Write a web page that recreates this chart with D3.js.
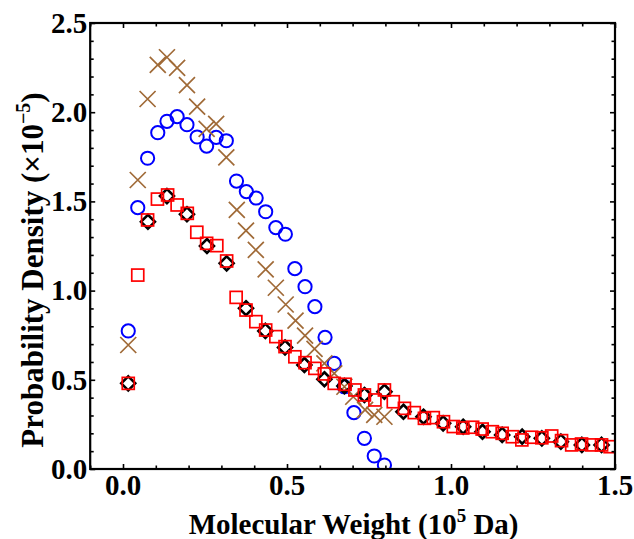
<!DOCTYPE html>
<html><head><meta charset="utf-8">
<script src="https://cdn.jsdelivr.net/npm/d3@7/dist/d3.min.js"></script>
<style>body{margin:0;background:#fff}svg{display:block}</style></head>
<body><svg id="c" width="634" height="539"></svg>
<script>
// Data (x in 10^5 Da, y in 10^-5)
const circleX = [0.016,0.045,0.075,0.106,0.134,0.165,0.195,0.226,0.255,0.284,0.315,0.346,0.376,0.406,0.435,0.466,0.495,0.524,0.555,0.585,0.616,0.644,0.675,0.704,0.736,0.766,0.797];
const circleY = [0.774,1.465,1.742,1.885,1.949,1.975,1.930,1.861,1.810,1.859,1.840,1.614,1.555,1.519,1.442,1.353,1.316,1.123,1.022,0.910,0.738,0.592,0.461,0.316,0.172,0.073,0.022];

const crossX = [0.016,0.045,0.075,0.106,0.134,0.165,0.195,0.226,0.255,0.284,0.315,0.347,0.375,0.405,0.435,0.466,0.496,0.526,0.555,0.584,0.614,0.644,0.675,0.702,0.738,0.766,0.797];
const crossY = [0.695,1.620,2.074,2.265,2.308,2.249,2.152,2.031,1.906,1.934,1.747,1.452,1.336,1.228,1.119,1.016,0.922,0.832,0.748,0.673,0.592,0.536,0.461,0.405,0.331,0.303,0.293];

const diamondX = [0.016,0.076,0.134,0.195,0.256,0.316,0.375,0.434,0.494,0.553,0.614,0.675,0.736,0.797,0.855,0.916,0.976,1.037,1.096,1.156,1.217,1.277,1.335,1.399,1.459];
const diamondY = [0.480,1.386,1.530,1.428,1.250,1.153,0.901,0.774,0.681,0.583,0.503,0.465,0.415,0.433,0.321,0.293,0.256,0.237,0.209,0.191,0.181,0.172,0.153,0.135,0.135];

const squareX = [0.016,0.045,0.075,0.105,0.136,0.165,0.196,0.225,0.255,0.286,0.316,0.345,0.375,0.405,0.435,0.466,0.494,0.524,0.555,0.585,0.614,0.644,0.677,0.707,0.736,0.768,0.797,0.824,0.858,0.888,0.919,0.946,0.977,1.007,1.036,1.066,1.095,1.126,1.156,1.187,1.216,1.246,1.277,1.307,1.337,1.368,1.398,1.429,1.459,1.485];
const squareY = [0.480,1.087,1.396,1.513,1.536,1.480,1.433,1.327,1.265,1.252,1.166,0.962,0.891,0.826,0.779,0.742,0.686,0.629,0.596,0.564,0.533,0.480,0.475,0.443,0.415,0.387,0.443,0.377,0.340,0.316,0.284,0.288,0.265,0.238,0.230,0.234,0.224,0.209,0.200,0.181,0.163,0.178,0.175,0.185,0.159,0.135,0.140,0.135,0.135,0.125];

const xTickLabels = [0.0, 0.5, 1.0, 1.5];
const yTickLabels = [0.0, 0.5, 1.0, 1.5, 2.0, 2.5];

const W = 634, H = 539;
const L = 90.2, R = 615, T = 23, B = 469;
const svg = d3.select("#c");
const x = d3.scaleLinear().domain([-0.1, 1.5]).range([L, R]);
const y = d3.scaleLinear().domain([0, 2.5]).range([B, T]);
const font = "'Liberation Serif','Times New Roman',serif";

svg.append("defs").append("clipPath").attr("id","pc")
  .append("rect").attr("x",L).attr("y",T).attr("width",R-L).attr("height",B-T);

const g = svg.append("g").attr("clip-path","url(#pc)");

// blue circles
g.append("g").selectAll("circle").data(d3.range(circleX.length)).join("circle")
  .attr("cx", i => x(circleX[i])).attr("cy", i => y(circleY[i])).attr("r", 6.6)
  .attr("fill","none").attr("stroke","#0000ff").attr("stroke-width",2);

// brown crosses
const cs = 8;
g.append("g").selectAll("path").data(d3.range(crossX.length)).join("path")
  .attr("d", i => { const cx = x(crossX[i]), cy = y(crossY[i]);
    return `M${cx-cs},${cy-cs}L${cx+cs},${cy+cs}M${cx-cs},${cy+cs}L${cx+cs},${cy-cs}`; })
  .attr("fill","none").attr("stroke","#a06a37").attr("stroke-width",1.7);

// black diamonds
const ds = 7;
g.append("g").selectAll("path").data(d3.range(diamondX.length)).join("path")
  .attr("d", i => { const cx = x(diamondX[i]), cy = y(diamondY[i]);
    return `M${cx},${cy-ds}L${cx+ds},${cy}L${cx},${cy+ds}L${cx-ds},${cy}Z`; })
  .attr("fill","none").attr("stroke","#000").attr("stroke-width",2.6);

// red squares
const ss = 6;
g.append("g").selectAll("rect").data(d3.range(squareX.length)).join("rect")
  .attr("x", i => x(squareX[i]) - ss).attr("y", i => y(squareY[i]) - ss)
  .attr("width", 2*ss).attr("height", 2*ss)
  .attr("fill","none").attr("stroke","#ff0000").attr("stroke-width",1.7);

// axes ticks (inward)
const fmt = d3.format(".1f");
const xMinor = d3.range(-0.1, 1.5001, 0.1).map(v => +v.toFixed(2)).filter(v => !xTickLabels.some(t => Math.abs(t - v) < 1e-6));
const yMinor = d3.range(0, 2.5001, 0.1).map(v => +v.toFixed(2)).filter(v => !yTickLabels.some(t => Math.abs(t - v) < 1e-6));

function styleAxis(sel){ sel.select(".domain").remove(); sel.selectAll("line").attr("stroke","#000").attr("stroke-width",1.6); sel.selectAll("text").remove(); }

svg.append("g").attr("transform",`translate(0,${B})`).call(d3.axisBottom(x).tickValues(xTickLabels).tickSize(-5)).call(styleAxis);
svg.append("g").attr("transform",`translate(0,${B})`).call(d3.axisBottom(x).tickValues(xMinor).tickSize(-3.5)).call(styleAxis);
svg.append("g").attr("transform",`translate(0,${T})`).call(d3.axisTop(x).tickValues(xTickLabels).tickSize(-5)).call(styleAxis);
svg.append("g").attr("transform",`translate(0,${T})`).call(d3.axisTop(x).tickValues(xMinor).tickSize(-3.5)).call(styleAxis);
svg.append("g").attr("transform",`translate(${L},0)`).call(d3.axisLeft(y).tickValues(yTickLabels).tickSize(-5)).call(styleAxis);
svg.append("g").attr("transform",`translate(${L},0)`).call(d3.axisLeft(y).tickValues(yMinor).tickSize(-3.5)).call(styleAxis);
svg.append("g").attr("transform",`translate(${R},0)`).call(d3.axisRight(y).tickValues(yTickLabels).tickSize(-5)).call(styleAxis);
svg.append("g").attr("transform",`translate(${R},0)`).call(d3.axisRight(y).tickValues(yMinor).tickSize(-3.5)).call(styleAxis);

// frame
svg.append("rect").attr("x",L).attr("y",T).attr("width",R-L).attr("height",B-T)
  .attr("fill","none").attr("stroke","#000").attr("stroke-width",2.2);

// tick labels
svg.append("g").selectAll("text").data(xTickLabels).join("text")
  .attr("x", d => x(d)).attr("y", B + 26).attr("text-anchor","middle")
  .attr("font-family",font).attr("font-weight","bold").attr("font-size",29)
  .text(d => fmt(d));
svg.append("g").selectAll("text").data(yTickLabels).join("text")
  .attr("x", L - 3).attr("y", d => y(d) + 9.8).attr("text-anchor","end")
  .attr("font-family",font).attr("font-weight","bold").attr("font-size",29)
  .text(d => fmt(d));

// axis titles
const xt = svg.append("text").attr("x",(L+R)/2 + 1).attr("y",534).attr("text-anchor","middle")
  .attr("font-family",font).attr("font-weight","bold").attr("font-size",29);
xt.append("tspan").text("Molecular Weight (10");
xt.append("tspan").attr("font-size",19).attr("dy",-12).text("5");
xt.append("tspan").attr("dy",12).text(" Da)");

const yt = svg.append("text").attr("transform",`translate(43,${270}) rotate(-90)`).attr("text-anchor","middle")
  .attr("font-family",font).attr("font-weight","bold").attr("font-size",31);
yt.append("tspan").text("Probability Density (\u00d710");
yt.append("tspan").attr("font-size",20).attr("dy",-13).text("\u22125");
yt.append("tspan").attr("dy",13).text(")");
</script></body></html>
